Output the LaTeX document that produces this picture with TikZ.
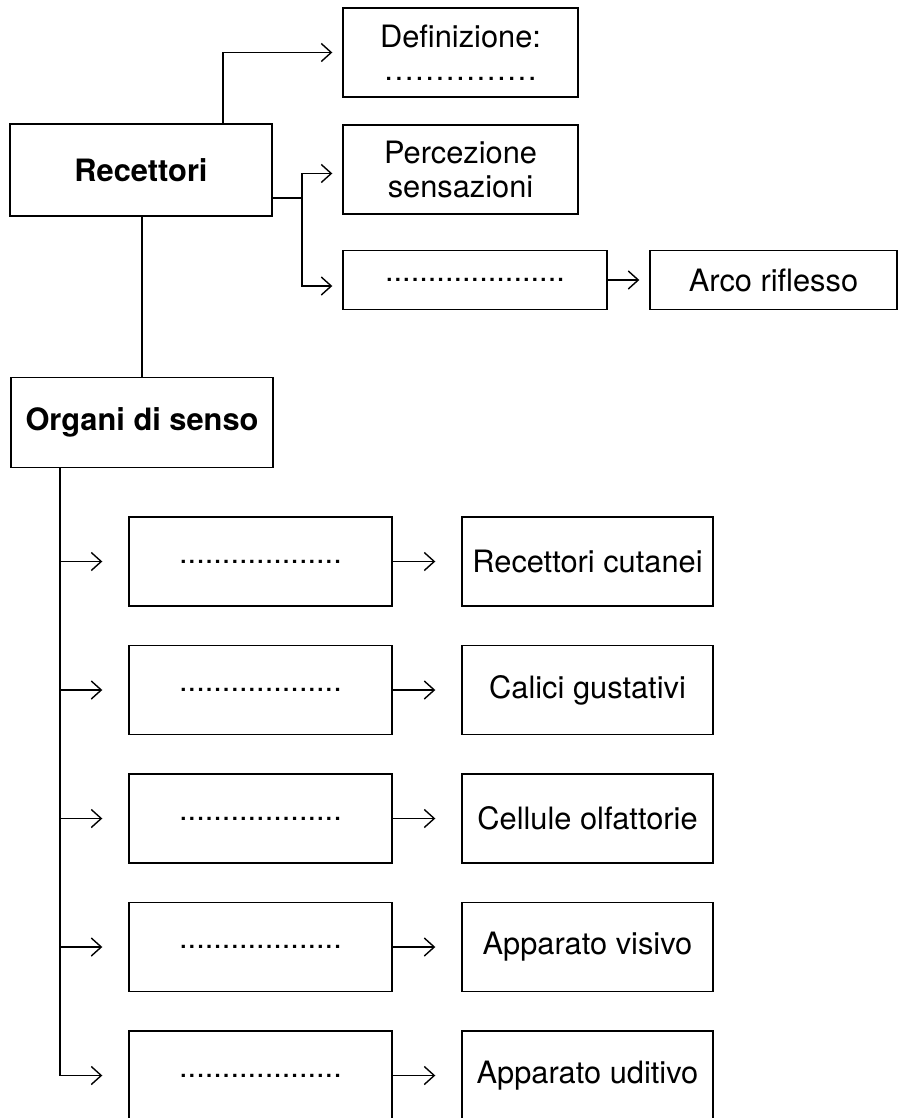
\documentclass[tikz,border=0pt]{standalone}
\usepackage{fontspec}
\setmainfont{TeX Gyre Heros}
\usetikzlibrary{arrows.meta,positioning,calc}

\begin{document}
\begin{tikzpicture}[x=0.5pt,y=-0.5pt,>={Straight Barb[length=5pt,width=9pt]},
    line width=0.7pt,
    font=\fontsize{15.4}{16.6}\selectfont,
    box/.style={draw,align=center,inner sep=0pt},
    boxtop/.style={box,minimum width=117.5pt,minimum height=44.5pt},
    boxhead/.style={box,font=\fontsize{15.4}{16.6}\selectfont\bfseries,minimum width=131pt,minimum height=45pt},
    boxleft/.style={box,minimum width=131.5pt,minimum height=44.5pt},
    boxright/.style={box,minimum width=125.5pt,minimum height=44.5pt},
    near/.style={->,shorten >=5pt},
    far/.style={->,shorten >=13pt}]
  \useasboundingbox (0,0) rectangle (913,1118);
  \clip (0,0) rectangle (913,1118);

  % upper part
  \node[boxhead,minimum height=46pt] (rec) at (141,170) {Recettori};
  \node[boxtop] (def) at (460.5,52.5) {Definizione:\\……………};
  \node[boxtop] (perc) at (460.5,169.5) {Percezione\\sensazioni};
  \node[box,minimum width=132pt,minimum height=29.5pt] (vuoto) at (475,280) {.....................};
  \node[box,minimum width=123.5pt,minimum height=29.5pt] (arco) at (773.5,280) {Arco riflesso};

  \draw[near] ([xshift=41pt]rec.north) |- (def.west);
  \coordinate (rj) at (302,198);
  \draw (rec.east |- rj) -- (rj);
  \draw[near] (rj) |- ([yshift=-2pt]perc.west);
  \draw[near] (rj) |- ([yshift=-3pt]vuoto.west);
  \draw[near] (vuoto) -- (arco);

  % organi di senso
  \node[boxhead] (org) at (142,422.5) {Organi di senso};
  \draw (rec.south -| org.north) -- (org.north);
  \coordinate (ot) at ([xshift=-41pt]org.south);

  \foreach \i/\txt in {1/Recettori cutanei,2/Calici gustativi,3/Cellule olfattorie,
                       4/Apparato visivo,5/Apparato uditivo}{
    \node[boxleft] (q\i) at (260.5,{561.5+128.5*(\i-1)}) {...................};
    \node[boxright] (r\i) at (587.5,{561.5+128.5*(\i-1)}) {\txt};
    \draw[far] (ot |- q\i) -- (q\i.west);
    \draw[far] (q\i) -- (r\i);
  }
  \draw (ot) -- (ot |- q5);
\end{tikzpicture}
\end{document}
